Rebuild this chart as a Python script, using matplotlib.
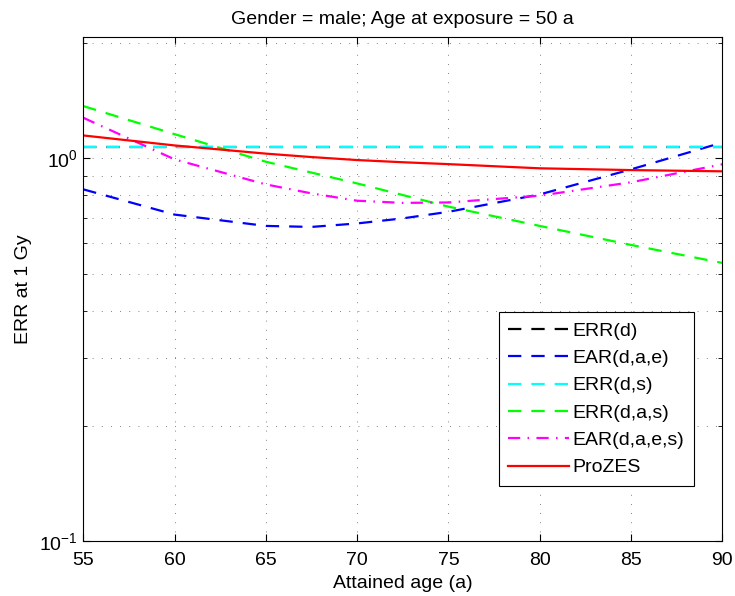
import matplotlib
matplotlib.use('Agg')
from matplotlib import pyplot as plt
from matplotlib.ticker import LogLocator, NullFormatter, FixedLocator
import numpy as np

plt.rcParams['font.family'] = ['Liberation Sans', 'DejaVu Sans']
plt.rcParams['mathtext.fontset'] = 'custom'
plt.rcParams['mathtext.rm'] = 'Liberation Sans'

age = [55, 60, 65, 67.5, 70, 72.5, 75, 80, 85, 90]
err_d = [1.072, 1.072, 1.072, 1.072, 1.072, 1.072, 1.072, 1.072, 1.072, 1.072]
ear_dae = [0.830, 0.713, 0.666, 0.662, 0.676, 0.697, 0.725, 0.805, 0.936, 1.10]
err_ds = [1.072, 1.072, 1.072, 1.072, 1.072, 1.072, 1.072, 1.072, 1.072, 1.072]
err_das = [1.37, 1.157, 0.98, 0.918, 0.86, 0.802, 0.748, 0.666, 0.594, 0.533]
ear_daes = [1.277, 0.994, 0.855, 0.81, 0.775, 0.765, 0.767, 0.799, 0.866, 0.965]
prozes = [1.148, 1.081, 1.029, 1.008, 0.990, 0.977, 0.966, 0.942, 0.932, 0.925]

fig = plt.figure(figsize=(7.35, 5.96), dpi=100)
ax = fig.add_axes([0.1133, 0.0923, 0.8695, 0.8448])

lw = 1.6
dash = (0, (6, 4.5))
ax.plot(age, err_d, color='k', lw=lw, ls=dash, label='ERR(d)')
ax.plot(age, ear_dae, color='#0000ff', lw=lw, ls=dash, label='EAR(d,a,e)')
ax.plot(age, err_ds, color='#00ffff', lw=lw, ls=dash, label='ERR(d,s)')
ax.plot(age, err_das, color='#00ff00', lw=lw, ls=dash, label='ERR(d,a,s)')
ax.plot(age, ear_daes, color='#ff00ff', lw=lw, ls=(0, (5.5, 3.3, 0.7, 3.3)), label='EAR(d,a,e,s)')
ax.plot(age, prozes, color='#ff0000', lw=lw, ls='-', label='ProZES')

ax.set_yscale('log')
ax.set_xlim(55, 90)
ax.set_ylim(0.1, 2.07)
ax.xaxis.set_major_locator(FixedLocator([55, 60, 65, 70, 75, 80, 85, 90]))
ax.yaxis.set_major_locator(LogLocator(base=10))
ax.yaxis.set_minor_locator(LogLocator(base=10, subs=np.arange(2, 10)))
ax.yaxis.set_minor_formatter(NullFormatter())

ax.grid(which='major', axis='x', linestyle=(0, (1, 10)), linewidth=0.6, color='0.35')
ax.grid(which='both', axis='y', linestyle=(0, (1, 10)), linewidth=0.6, color='0.35')

ax.tick_params(which='both', direction='in', top=True, right=True, labelsize=14)
ax.tick_params(which='major', length=5)
ax.tick_params(which='minor', length=3)
ax.tick_params(axis='x', pad=8)
ax.tick_params(axis='y', pad=4)
for s in ax.spines.values():
    s.set_linewidth(0.8)

ax.set_xlabel('Attained age (a)', fontsize=14, labelpad=4)
ax.set_ylabel('ERR at 1 Gy', fontsize=14, labelpad=5)
ax.set_title('Gender = male; Age at exposure = 50 a', fontsize=14, pad=10)

leg = ax.legend(loc='lower right', bbox_to_anchor=(0.9556, 0.109), borderaxespad=0,
                fontsize=14, fancybox=False, framealpha=1, edgecolor='k',
                handlelength=3.1, labelspacing=0.5, borderpad=0.5, handletextpad=0.2)
leg.get_frame().set_linewidth(0.8)

fig.savefig('out.png', dpi=100)
